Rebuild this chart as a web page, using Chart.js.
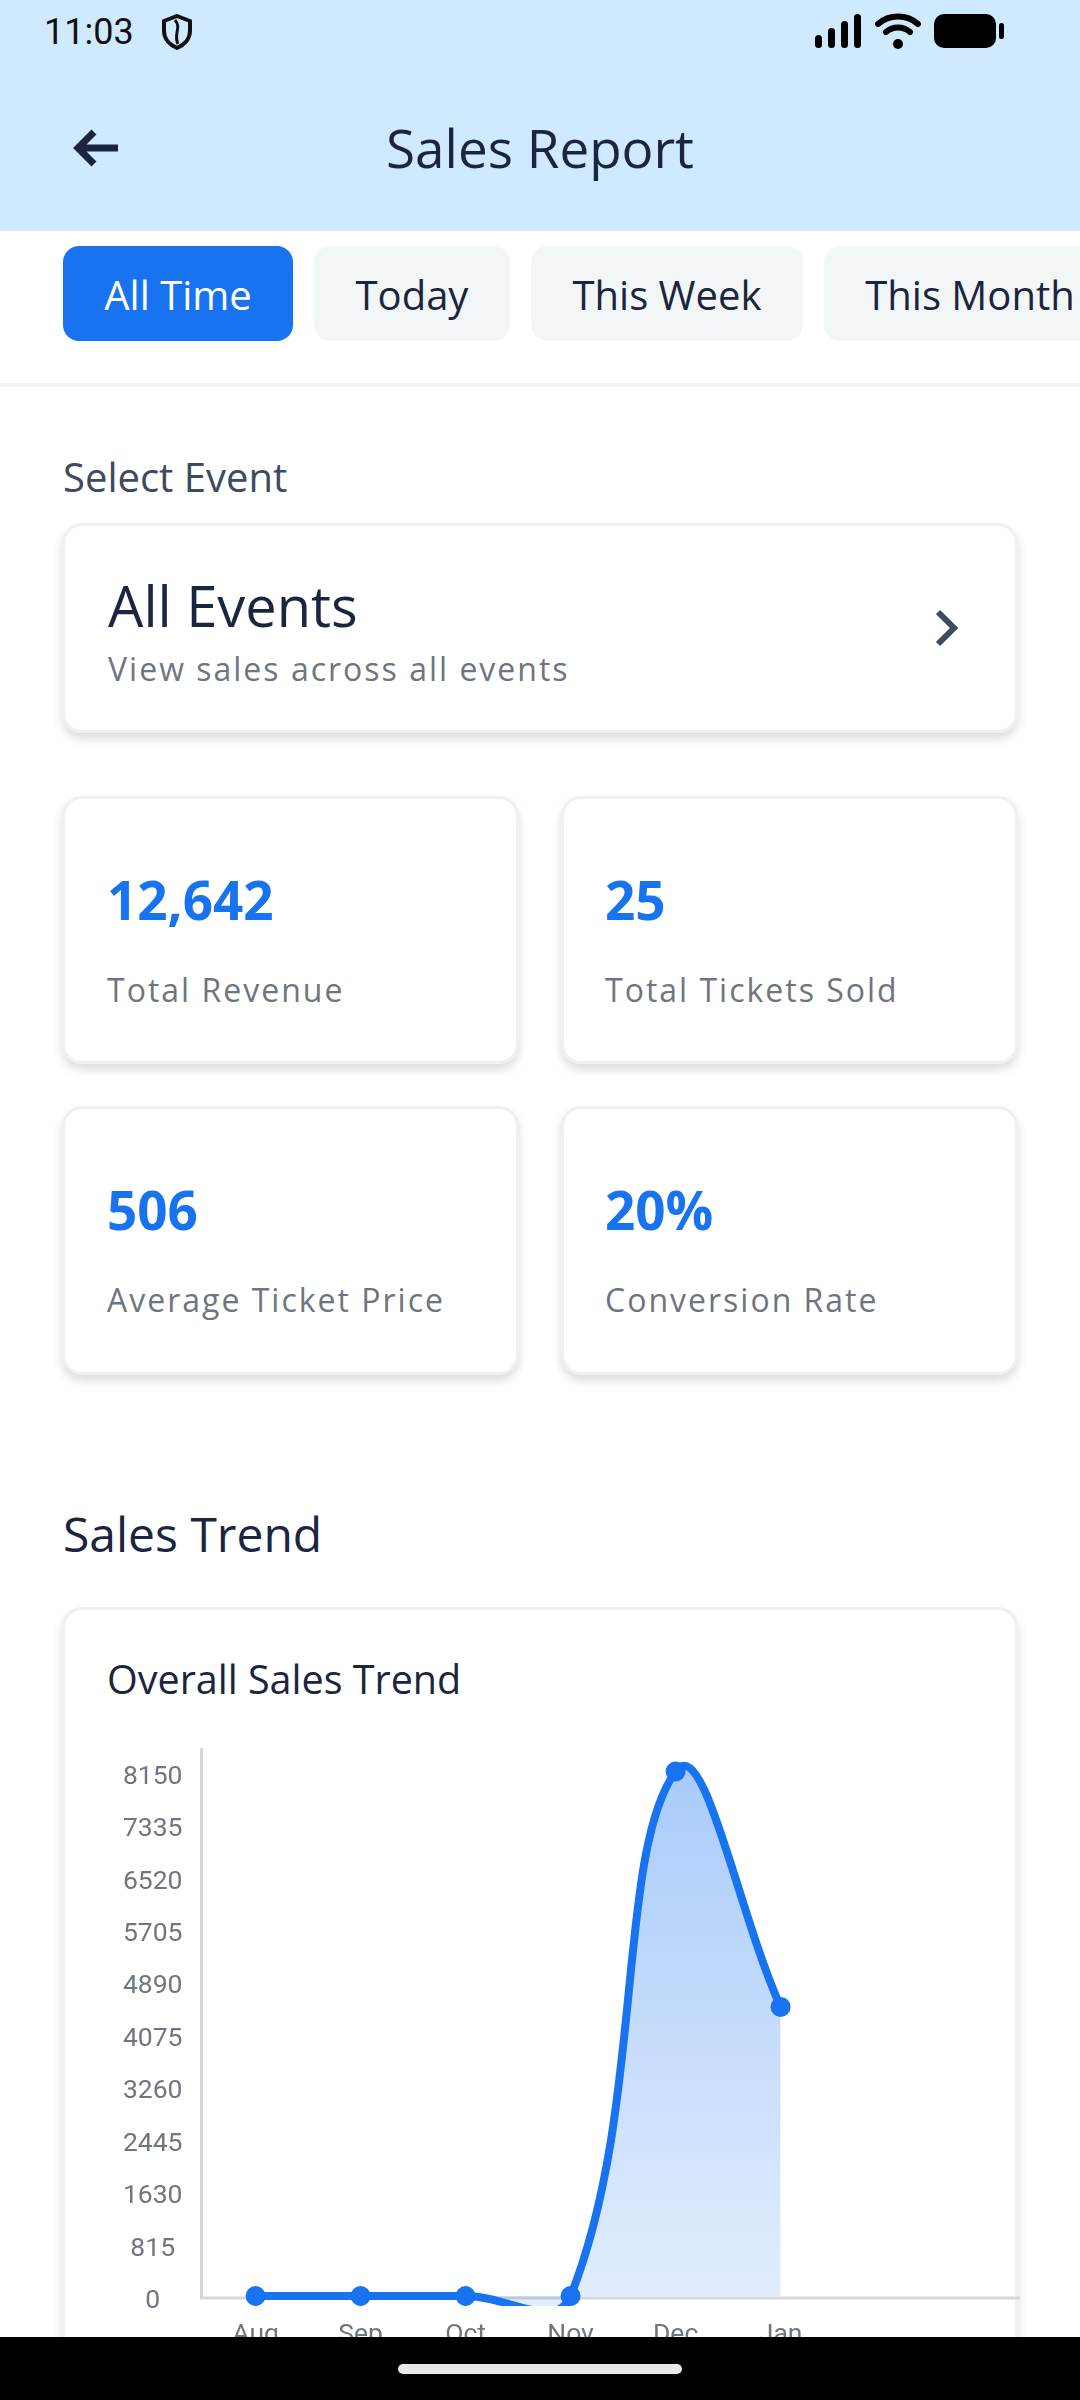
<!DOCTYPE html>
<html>
<head>
<meta charset="utf-8">
<title>Sales Report</title>
<script src="https://cdn.jsdelivr.net/npm/chart.js@4"></script>
<style>
  html, body { margin: 0; padding: 0; background: #fff; }
  #page { position: relative; width: 1080px; height: 2400px; overflow: hidden; font-family: "Open Sans", sans-serif; color: #1a2540; }
  #page > * { position: absolute; }
  .txt { white-space: nowrap; line-height: 1; }
  .header { left: 0; top: 0; width: 1080px; height: 231px; background: #cfeafe; }
  .tab { top: 246px; height: 95px; padding-top: 2px; box-sizing: border-box; border-radius: 16px; background: #f3f6f7; font-size: 40px; display: flex; align-items: center; justify-content: center; white-space: nowrap; }
  .tab.active { background: #1873f0; color: #fff; }
  .divider { left: 0; top: 383px; width: 1080px; height: 4px; background: #f0f3f4; }
  .card { box-sizing: border-box; background: #fff; border: 3px solid #eef1f2; border-radius: 20px; box-shadow: 0 6px 10px rgba(60, 70, 80, 0.18); }
  .stat-val { font-size: 53px; font-weight: 700; color: #1873f0; }
  .stat-lab { font-size: 32px; color: #6e7580; letter-spacing: 2px; }
  #chartWrap { left: 70px; top: 1730px; width: 960px; height: 640px; }
  .navbar { left: 0; top: 2337px; width: 1080px; height: 63px; background: #000; }
  .pill { left: 398px; top: 2364px; width: 284px; height: 10px; border-radius: 5px; background: #e8e8e8; }
</style>
</head>
<body>
<div id="page">
  <div class="header"></div>
  <div class="txt" style="left:44px;top:14px;font-family:Roboto;font-size:36px;color:#111;">11:03</div>
  <svg style="left:160px;top:14px" width="34" height="36" viewBox="0 0 34 36"><path d="M17 2 L30 7 V17 C30 25 24 31 17 34 C10 31 4 25 4 17 V7 Z" fill="none" stroke="#111" stroke-width="4"/><path d="M15 6 C22 14 13 20 18 30" fill="none" stroke="#111" stroke-width="3"/></svg>
  <svg style="left:814px;top:14px" width="50" height="34" viewBox="0 0 50 34"><g fill="#000"><rect x="1" y="21" width="7" height="13" rx="3.5"/><rect x="14" y="14" width="7" height="20" rx="3.5"/><rect x="27" y="7" width="7" height="27" rx="3.5"/><rect x="40" y="0" width="7" height="34" rx="3.5"/></g></svg>
  <svg style="left:875px;top:13px" width="46" height="36" viewBox="0 0 46 36"><g fill="none" stroke="#000" stroke-width="6" stroke-linecap="round"><path d="M3 11 C14 1 32 1 43 11"/><path d="M11 19 C18 13 28 13 35 19"/></g><circle cx="23" cy="31" r="5" fill="#000"/></svg>
  <svg style="left:934px;top:14px" width="72" height="34" viewBox="0 0 72 34"><rect x="0" y="0" width="62" height="34" rx="10" fill="#000"/><rect x="65" y="9" width="5" height="16" rx="2.5" fill="#000"/></svg>

  <svg style="left:72px;top:128px" width="50" height="40" viewBox="0 0 50 40"><path d="M46 20 H6 M22 4 L6 20 L22 36" fill="none" stroke="#1a2540" stroke-width="7"/></svg>
  <div class="txt" style="left:386px;top:121px;font-size:53px;">Sales Report</div>

  <div class="tab active" style="left:63px;width:230px;">All Time</div>
  <div class="tab" style="left:314px;width:196px;">Today</div>
  <div class="tab" style="left:531px;width:272px;">This Week</div>
  <div class="tab" style="left:824px;width:292px;">This Month</div>
  <div class="divider"></div>

  <div class="txt" style="left:63px;top:457px;font-size:40px;color:#3d4a60;">Select Event</div>
  <div class="card" style="left:62px;top:523px;width:956px;height:210px;"></div>
  <div class="txt" style="left:108px;top:577px;font-size:56px;">All Events</div>
  <div class="txt" style="left:108px;top:653px;font-size:32px;color:#6e7580;letter-spacing:2px;">View sales across all events</div>
  <svg style="left:932px;top:608px" width="30" height="40" viewBox="0 0 30 40"><path d="M6 4 L22 20 L6 36" fill="none" stroke="#3d4a60" stroke-width="6"/></svg>

  <div class="card" style="left:62px;top:796px;width:457px;height:268px;"></div>
  <div class="card" style="left:561px;top:796px;width:457px;height:268px;"></div>
  <div class="card" style="left:62px;top:1106px;width:457px;height:269px;"></div>
  <div class="card" style="left:561px;top:1106px;width:457px;height:269px;"></div>
  <div class="txt stat-val" style="left:107px;top:873px;">12,642</div>
  <div class="txt stat-lab" style="left:107px;top:974px;">Total Revenue</div>
  <div class="txt stat-val" style="left:605px;top:873px;">25</div>
  <div class="txt stat-lab" style="left:605px;top:974px;">Total Tickets Sold</div>
  <div class="txt stat-val" style="left:107px;top:1183px;">506</div>
  <div class="txt stat-lab" style="left:107px;top:1284px;">Average Ticket Price</div>
  <div class="txt stat-val" style="left:605px;top:1183px;">20%</div>
  <div class="txt stat-lab" style="left:605px;top:1284px;">Conversion Rate</div>

  <div class="txt" style="left:63px;top:1510px;font-size:48px;">Sales Trend</div>
  <div class="card" style="left:62px;top:1607px;width:956px;height:800px;"></div>
  <div class="txt" style="left:107px;top:1660px;font-size:39.5px;">Overall Sales Trend</div>

  <div id="chartWrap"><canvas id="salesChart" width="960" height="640"></canvas></div>

  <div class="navbar"></div>
  <div class="pill"></div>
</div>

<script>
const months = ['Aug', 'Sep', 'Oct', 'Nov', 'Dec', 'Jan'];
const sales = [0, 0, 0, 0, 8150, 4492];
const yTicks = [0, 815, 1630, 2445, 3260, 4075, 4890, 5705, 6520, 7335, 8150];

const axisColor = '#d5d7da';
const tickColor = '#6f7680';
const lineColor = '#1873f0';

// axis lines sit a touch under the zero line, as in the app
const axisLines = {
    id: 'axisLines',
    beforeDatasetsDraw(chart) {
        const { ctx, chartArea, scales } = chart;
        const y0 = scales.y.getPixelForValue(0) + 2;
        ctx.save();
        ctx.strokeStyle = axisColor;
        ctx.lineWidth = 3;
        ctx.beginPath();
        ctx.moveTo(chartArea.left, chartArea.top);
        ctx.lineTo(chartArea.left, y0);
        ctx.lineTo(chartArea.right, y0);
        ctx.stroke();
        ctx.restore();
    }
};

function areaFill(c) {
    const { ctx, chartArea, scales } = c.chart;
    if (!chartArea) return 'transparent';
    const g = ctx.createLinearGradient(0, scales.y.getPixelForValue(8150), 0, scales.y.getPixelForValue(0));
    g.addColorStop(0, 'rgba(24,115,240,0.37)');
    g.addColorStop(1, 'rgba(24,115,240,0.13)');
    return g;
}

new Chart(document.getElementById('salesChart'), {
    type: 'line',
    data: {
        labels: months,
        datasets: [{
            data: sales.map((v, i) => ({ x: i, y: v })),
            borderColor: lineColor,
            backgroundColor: areaFill,
            pointBackgroundColor: lineColor,
            pointBorderWidth: 0,
            pointRadius: 10,
            borderWidth: 8,
            tension: 0.42,
            capBezierPoints: false,
            clip: 0,
            fill: { value: 0 }
        }]
    },
    plugins: [axisLines],
    options: {
        responsive: false,
        animation: false,
        devicePixelRatio: 1,
        layout: { padding: { top: 18, right: 10, left: 0, bottom: 0 } },
        plugins: { legend: { display: false }, tooltip: { enabled: false } },
        scales: {
            x: {
                type: 'linear',
                min: -0.515,
                max: 7.28,
                grid: { display: false },
                border: { display: false },
                afterFit: (s) => { s.height = 64; },
                afterBuildTicks: (s) => { s.ticks = months.map((_, value) => ({ value })); },
                ticks: {
                    autoSkip: false,
                    maxRotation: 0,
                    padding: 5,
                    color: tickColor,
                    font: { family: 'Roboto', size: 26.5 },
                    callback: (v) => months[v]
                }
            },
            y: {
                min: -155,
                max: 8515,
                grid: { display: false },
                border: { display: false },
                afterFit: (s) => { s.width = 131.5; s.paddingTop = 0; s.paddingBottom = 0; },
                afterBuildTicks: (s) => { s.ticks = yTicks.map((value) => ({ value })); },
                ticks: {
                    padding: 11,
                    crossAlign: 'center',
                    labelOffset: 5.5,
                    color: tickColor,
                    font: { family: 'Roboto', size: 26.5 },
                    callback: (v) => String(v)
                }
            }
        }
    }
});
</script>
</body>
</html>
